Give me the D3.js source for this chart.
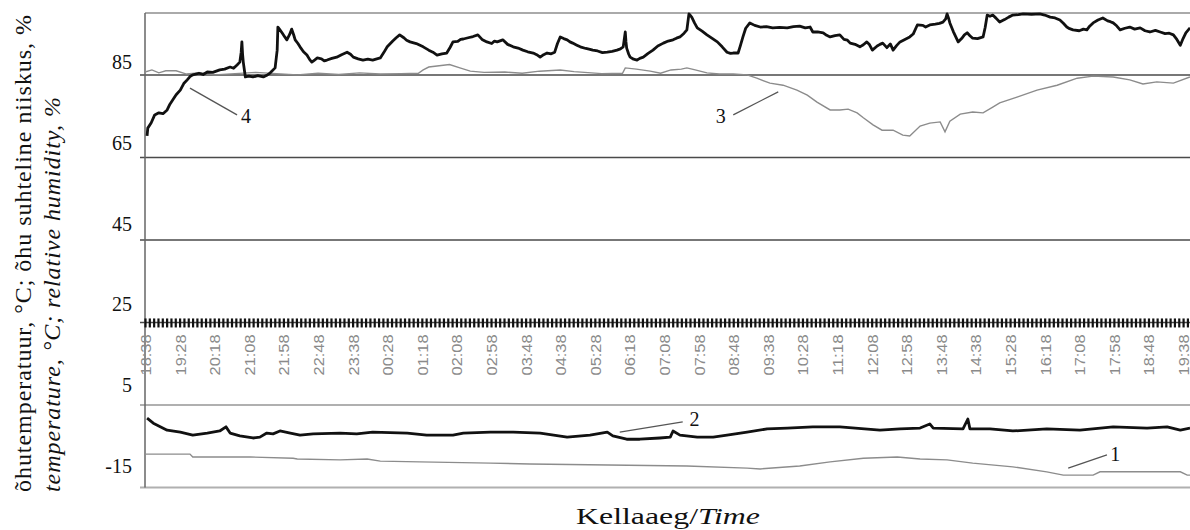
<!DOCTYPE html>
<html lang="et">
<head>
<meta charset="UTF-8">
<title>Õhutemperatuur ja suhteline niiskus</title>
<script src="https://d3js.org/d3.v7.min.js"></script>
<style>
  body { margin: 0; background: #fff; }
  svg { display: block; }
  .serif { font-family: "Liberation Serif", "Times New Roman", serif; fill: #111; }
  .tlabel { font-family: "Liberation Sans", Arial, sans-serif; font-size: 14px; fill: #8a8a8a; }
</style>
</head>
<body>
<div id="chart"></div>
<script>
// time in minutes after 18:38, value in °C or %
const timeLabels = ["18:38","19:28","20:18","21:08","21:58","22:48","23:38","00:28","01:18","02:08",
  "02:58","03:48","04:38","05:28","06:18","07:08","07:58","08:48","09:38","10:28","11:18","12:08",
  "12:58","13:48","14:38","15:28","16:18","17:08","17:58","18:48","19:38"];
const yTicks = [85, 65, 45, 25, 5, -15];

// 1 - thin grey, air temperature (outside)
const series1 = [[0,-6.9],[65,-6.9],[69,-7.6],[152,-7.6],[214,-7.9],[220,-8.1],[282,-8.3],[321,-8.1],
  [340,-8.6],[397,-8.8],[499,-9.1],[556,-9.3],[783,-9.8],[870,-10.3],[889,-10.5],[946,-9.8],[990,-8.8],
  [1038,-7.9],[1087,-7.6],[1120,-8.1],[1159,-8.3],[1196,-9.1],[1254,-10.0],[1303,-11.2],[1327,-12.0],
  [1370,-12.0],[1380,-11.2],[1496,-11.2],[1506,-12.0],[1510,-12.0]];

// 2 - thick black, air temperature
const series2 = [[3,1.8],[12,0.6],[32,-1.1],[51,-1.6],[69,-2.3],[90,-1.8],[108,-1.3],[117,-0.3],[123,-1.8],
  [137,-2.5],[156,-3.0],[166,-2.8],[176,-1.8],[185,-2.0],[195,-1.3],[210,-1.8],[224,-2.3],[243,-2.0],
  [282,-1.8],[306,-2.0],[329,-1.6],[379,-1.8],[407,-2.3],[445,-2.3],[460,-1.8],[499,-1.6],[532,-1.6],
  [571,-1.8],[610,-2.8],[643,-2.3],[668,-1.6],[676,-2.5],[696,-3.3],[715,-3.3],[744,-3.0],[759,-2.8],
  [763,-1.3],[773,-2.3],[798,-2.8],[821,-2.8],[841,-2.3],[870,-1.6],[899,-0.8],[928,-0.6],[965,-0.3],
  [1004,-0.3],[1062,-1.1],[1091,-0.8],[1120,-0.6],[1134,0.4],[1139,-0.6],[1182,-0.8],[1189,1.6],
  [1192,-0.8],[1221,-0.8],[1254,-1.3],[1303,-0.8],[1351,-1.1],[1399,-0.3],[1448,-0.6],[1477,-0.3],
  [1496,-1.1],[1510,-0.6]];

// 3 - thin grey, relative humidity (outside)
const series3 = [[0,85.7],[10,86.2],[20,85.5],[30,86.0],[45,86.0],[60,85.2],[80,85.5],[100,85.0],
  [130,85.3],[160,85.6],[190,85.3],[220,85.0],[250,85.4],[280,85.1],[310,85.5],[340,85.2],[370,85.3],
  [395,85.4],[402,86.2],[410,86.9],[425,87.2],[440,87.5],[455,86.7],[470,85.9],[490,85.6],[520,85.7],
  [545,85.4],[570,85.9],[600,86.2],[620,85.8],[660,85.3],[690,85.4],[694,86.7],[710,86.4],[730,85.9],
  [745,85.4],[760,86.2],[775,86.4],[783,86.7],[795,86.2],[812,85.5],[830,85.2],[850,85.2],[870,85.0],
  [884,84.2],[903,83.0],[922,82.5],[942,81.3],[957,80.1],[971,78.4],[990,76.5],[1004,76.5],[1016,76.7],
  [1029,75.8],[1038,74.6],[1052,72.9],[1065,71.6],[1081,71.6],[1095,70.4],[1105,70.2],[1120,72.6],
  [1134,73.3],[1149,73.6],[1156,71.2],[1163,73.8],[1178,75.5],[1196,76.0],[1211,75.8],[1225,77.2],
  [1235,78.2],[1260,79.6],[1289,81.3],[1318,82.5],[1347,84.2],[1370,84.7],[1399,84.5],[1423,83.8],
  [1442,82.8],[1462,83.3],[1486,83.0],[1510,84.5]];

// 4 - thick black, relative humidity
const series4 = [[3,70.2],[4,72.1],[9,73.4],[14,75.3],[20,75.8],[26,75.6],[32,76.5],[36,77.9],[40,78.9],
  [45,80.2],[51,81.3],[56,82.9],[61,83.8],[65,84.6],[69,85.0],[78,85.4],[84,85.1],[90,85.7],[98,85.6],
  [108,86.2],[115,86.4],[123,86.9],[128,86.6],[133,87.4],[137,88.1],[139,90.5],[140,93.0],[141,90.0],
  [142,88.1],[145,84.5],[150,84.7],[156,84.5],[163,84.8],[171,84.5],[176,84.9],[181,85.5],[188,86.7],
  [191,91.0],[192,96.6],[195,95.9],[198,95.2],[202,94.2],[205,93.5],[209,94.8],[212,96.1],[215,94.6],
  [217,93.5],[221,92.6],[224,91.8],[229,90.6],[234,89.8],[238,88.7],[241,88.1],[245,88.6],[249,89.1],
  [255,88.9],[259,88.4],[263,88.6],[270,89.0],[277,89.3],[284,89.9],[292,90.5],[297,90.0],[301,89.3],
  [308,88.9],[315,88.6],[322,88.8],[329,88.6],[335,88.9],[340,89.1],[345,90.4],[350,91.8],[358,93.2],
  [363,94.0],[368,94.7],[374,94.0],[378,93.4],[383,93.0],[392,92.6],[402,91.8],[410,91.0],[416,90.5],
  [422,89.8],[429,90.1],[436,90.3],[441,91.7],[445,93.0],[452,93.1],[456,93.6],[460,93.7],[467,94.0],
  [474,94.3],[481,94.7],[487,93.6],[494,93.0],[501,92.6],[505,93.2],[509,93.0],[517,93.5],[524,92.4],
  [532,91.8],[539,91.5],[546,91.0],[553,90.6],[561,90.3],[566,89.9],[571,89.3],[576,89.9],[581,90.3],
  [587,90.1],[592,90.5],[596,92.6],[600,94.2],[605,93.8],[610,93.5],[614,93.0],[618,92.7],[624,92.2],
  [629,91.8],[637,91.4],[643,91.2],[647,91.0],[654,90.8],[661,90.4],[668,90.5],[675,90.7],[682,91.0],
  [687,91.3],[691,91.8],[693,94.2],[694,95.4],[695,93.0],[696,91.5],[699,90.0],[701,89.3],[706,88.8],
  [711,88.6],[715,89.0],[720,89.3],[727,90.2],[734,91.0],[741,92.0],[749,92.7],[756,93.2],[763,93.5],
  [768,93.9],[773,94.2],[779,95.1],[783,95.9],[785,98.5],[786,99.8],[788,99.4],[790,99.0],[794,97.6],
  [798,96.4],[805,95.6],[812,94.7],[819,93.9],[827,93.0],[834,91.8],[841,90.5],[846,90.2],[850,90.3],
  [857,90.3],[860,91.9],[864,94.2],[868,96.3],[874,97.6],[881,97.0],[889,96.6],[898,96.7],[907,96.4],
  [917,96.5],[928,96.4],[937,96.7],[946,96.8],[954,96.4],[961,96.6],[965,95.4],[972,95.4],[980,95.2],
  [985,94.6],[990,94.2],[997,94.5],[1004,94.7],[1010,93.6],[1015,93.4],[1019,92.7],[1026,92.4],
  [1033,91.8],[1038,92.3],[1043,93.0],[1047,92.3],[1051,91.0],[1058,92.0],[1062,92.4],[1066,92.7],
  [1072,91.6],[1077,92.5],[1081,91.0],[1086,92.1],[1091,93.0],[1098,93.6],[1105,94.2],[1110,94.9],
  [1116,97.1],[1124,97.0],[1128,96.6],[1134,97.1],[1142,97.3],[1148,97.5],[1153,97.8],[1157,98.6],
  [1159,99.8],[1161,98.8],[1163,97.6],[1168,95.5],[1175,93.0],[1180,93.8],[1184,94.7],[1188,95.2],
  [1192,94.5],[1196,93.9],[1203,93.8],[1211,94.2],[1214,96.5],[1217,99.5],[1221,99.2],[1225,99.5],
  [1230,98.7],[1235,97.8],[1242,98.4],[1248,99.0],[1254,99.5],[1262,99.6],[1269,99.8],[1281,99.7],
  [1293,99.8],[1300,99.5],[1308,99.0],[1315,98.8],[1322,98.3],[1327,97.5],[1332,96.6],[1336,96.2],
  [1341,95.9],[1350,95.7],[1356,96.1],[1361,95.9],[1365,96.8],[1370,97.6],[1377,98.3],[1384,98.8],
  [1391,98.1],[1395,97.9],[1399,97.6],[1404,96.9],[1409,95.9],[1416,96.3],[1423,96.6],[1430,96.1],
  [1438,96.4],[1445,95.7],[1452,95.4],[1460,95.8],[1467,95.4],[1474,95.0],[1480,95.1],[1486,94.7],
  [1491,93.6],[1496,92.2],[1500,93.8],[1504,95.2],[1510,96.4]];

// curve numbers: label, leader start, leader end
const callouts = [
  { label: "4", from: [65, 81.8], to: [133, 75.3], at: [146, 75.0] },
  { label: "3", from: [915, 80.9], to: [850, 75.3], at: [832, 75.0] },
  { label: "2", from: [686, -1.6], to: [777, 0.9], at: [794, 1.6] },
  { label: "1", from: [1334, -10.3], to: [1390, -7.1], at: [1402, -6.9] }
];

const width = 1190, height = 530;
const plot = { left: 145, right: 1190, top: 13, bottom: 487.5 };

const svg = d3.select("#chart").append("svg")
  .attr("width", width)
  .attr("height", height);

const x = d3.scaleLinear().domain([0, 1510]).range([plot.left, plot.right]);
const y = d3.scaleLinear().domain([-15, 100]).range([plot.bottom, plot.top]);
// tick numbers sit a little above their gridlines in the original
const yLabel = d3.scaleLinear().domain([-15, 85]).range([466, 62]);

// frame and gridlines
svg.append("line")
  .attr("x1", plot.left).attr("x2", plot.right)
  .attr("y1", y(100)).attr("y2", y(100))
  .attr("stroke", "#aaa").attr("stroke-width", 2);

svg.selectAll(".grid")
  .data(yTicks)
  .enter().append("line")
  .attr("class", "grid")
  .attr("x1", plot.left - 5).attr("x2", plot.right)
  .attr("y1", d => y(d)).attr("y2", d => y(d))
  .attr("stroke", d => d <= 5 ? "#b0b0b0" : "#4a4a4a")
  .attr("stroke-width", d => d <= 5 ? 2 : 1.5);

svg.append("line")
  .attr("x1", plot.left).attr("x2", plot.left)
  .attr("y1", y(100)).attr("y2", y(-15))
  .attr("stroke", "#666").attr("stroke-width", 1.5);

// time axis crossing at 25, with dense tick marks
const timeAxis = d3.axisBottom(x)
  .tickValues(d3.range(0, 1511, 6.25))
  .tickSize(9)
  .tickFormat("");

const ax = svg.append("g")
  .attr("transform", `translate(0,${y(25) - 4})`)
  .call(timeAxis);
ax.select(".domain").remove();
ax.selectAll(".tick line").attr("stroke", "#111").attr("stroke-width", 2.2);

svg.selectAll(".tlabel")
  .data(timeLabels)
  .enter().append("text")
  .attr("class", "tlabel")
  .attr("text-anchor", "end")
  .attr("textLength", 41)
  .attr("lengthAdjust", "spacingAndGlyphs")
  .attr("transform", (d, i) => `translate(${Math.min(x(i * 50) + 6, plot.right - 1)},${y(25) + 12}) rotate(-90)`)
  .text(d => d);

// y tick numbers
svg.selectAll(".ylab")
  .data(yTicks)
  .enter().append("text")
  .attr("class", "serif ylab")
  .attr("x", 132)
  .attr("y", d => yLabel(d))
  .attr("dy", "0.35em")
  .attr("text-anchor", "end")
  .style("font-size", "20px")
  .text(d => d);

// series
const line = d3.line().x(d => x(d[0])).y(d => y(d[1]));

svg.append("path").datum(series1)
  .attr("d", line).attr("fill", "none")
  .attr("stroke", "#8c8c8c").attr("stroke-width", 1.4);
svg.append("path").datum(series3)
  .attr("d", line).attr("fill", "none")
  .attr("stroke", "#8c8c8c").attr("stroke-width", 1.4);
svg.append("path").datum(series2)
  .attr("d", line).attr("fill", "none")
  .attr("stroke", "#111").attr("stroke-width", 2.8).attr("stroke-linejoin", "round");
svg.append("path").datum(series4)
  .attr("d", line).attr("fill", "none")
  .attr("stroke", "#111").attr("stroke-width", 2.8).attr("stroke-linejoin", "round");

// curve numbers
svg.selectAll(".leader")
  .data(callouts)
  .enter().append("line")
  .attr("class", "leader")
  .attr("x1", d => x(d.from[0])).attr("y1", d => y(d.from[1]))
  .attr("x2", d => x(d.to[0])).attr("y2", d => y(d.to[1]))
  .attr("stroke", "#555").attr("stroke-width", 1.3);

svg.selectAll(".cnum")
  .data(callouts)
  .enter().append("text")
  .attr("class", "serif cnum")
  .attr("x", d => x(d.at[0]))
  .attr("y", d => y(d.at[1]))
  .attr("dy", "0.35em")
  .attr("text-anchor", "middle")
  .style("font-size", "20px")
  .text(d => d.label);

// axis titles
const yt = svg.append("g").attr("class", "serif").style("font-size", "24px");
yt.append("text")
  .attr("transform", "translate(31,492) rotate(-90)")
  .attr("textLength", 477)
  .attr("lengthAdjust", "spacing")
  .text("õhutemperatuur, °C; õhu suhteline niiskus, %");
yt.append("text")
  .attr("transform", "translate(60,492) rotate(-90)")
  .attr("textLength", 395)
  .attr("lengthAdjust", "spacing")
  .style("font-style", "italic")
  .text("temperature, °C; relative humidity, %");

const xt = svg.append("text")
  .attr("class", "serif")
  .attr("x", 668).attr("y", 524)
  .attr("text-anchor", "middle")
  .attr("textLength", 184)
  .attr("lengthAdjust", "spacingAndGlyphs")
  .style("font-size", "23px");
xt.append("tspan").text("Kellaaeg/");
xt.append("tspan").style("font-style", "italic").text("Time");
</script>
</body>
</html>
